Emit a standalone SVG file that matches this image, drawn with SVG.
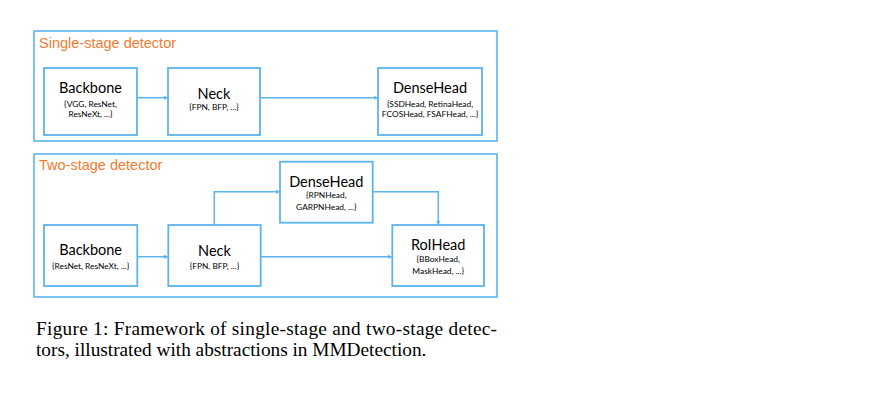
<svg xmlns="http://www.w3.org/2000/svg" width="888" height="406" viewBox="0 0 888 406">
<style>
.frame{fill:none;stroke:#5ab4f0;stroke-width:1.6}
.box{fill:#fff;stroke:#5ab4f0;stroke-width:1.8}
.title{font-family:"Liberation Sans",Arial,sans-serif;font-size:14.5px;fill:#ee7d31}
.name{font-family:Lato,"Open Sans",sans-serif;font-size:14.5px;fill:#000;text-anchor:middle}
.sub{font-family:Lato,"Open Sans",sans-serif;font-size:8.4px;fill:#000;text-anchor:middle}
.cap{font-family:"Liberation Serif","Times New Roman",serif;font-size:19.3px;fill:#000}
.conn{fill:none;stroke:#5ab4f0;stroke-width:1.5;marker-end:url(#ah)}
</style>
<defs>
<marker id="ah" viewBox="0 0 6 6" refX="6" refY="3" markerWidth="4.5" markerHeight="4.5" markerUnits="userSpaceOnUse" orient="auto">
<path d="M0,0 L6,3 L0,6 z" fill="#5ab4f0"/>
</marker>
</defs>
<rect width="888" height="406" fill="#fff"/>
<g id="single-stage">
<rect class="frame" x="34" y="31" width="463" height="110"/>
<text class="title" x="39" y="48">Single-stage detector</text>
</g>
<g id="two-stage">
<rect class="frame" x="34" y="154" width="463" height="143"/>
<text class="title" x="39" y="169.5">Two-stage detector</text>
</g>
<g id="connectors">
<path class="conn" d="M137,97.7 H168"/>
<path class="conn" d="M260,97.7 H378"/>
<path class="conn" d="M137,256.7 H168"/>
<path class="conn" d="M260.5,256.7 H392"/>
<path class="conn" d="M214.3,225 V191.7 H280"/>
<path class="conn" d="M372.7,191.7 H438.3 V225"/>
</g>
<g id="s-backbone">
<rect class="box" x="44" y="68" width="93" height="67"/>
<text class="name" x="90.5" y="92.7">Backbone</text>
<text class="sub" x="90.5" y="106.7">{VGG, ResNet,</text>
<text class="sub" x="90.5" y="117.3">ResNeXt, ...}</text>
</g>
<g id="s-neck">
<rect class="box" x="168" y="68" width="92" height="67"/>
<text class="name" x="214" y="99">Neck</text>
<text class="sub" x="214" y="110.3">{FPN, BFP, ...}</text>
</g>
<g id="s-densehead">
<rect class="box" x="378" y="68" width="104" height="67"/>
<text class="name" x="430" y="92.7">DenseHead</text>
<text class="sub" x="430" y="106.7">{SSDHead, RetinaHead,</text>
<text class="sub" x="430" y="117.3">FCOSHead, FSAFHead, ...}</text>
</g>
<g id="t-densehead">
<rect class="box" x="280" y="161.7" width="92.7" height="61"/>
<text class="name" x="326.3" y="186.7">DenseHead</text>
<text class="sub" x="326.3" y="198.3">{RPNHead,</text>
<text class="sub" x="326.3" y="210">GARPNHead, ...}</text>
</g>
<g id="t-backbone">
<rect class="box" x="44" y="225" width="93.3" height="61"/>
<text class="name" x="90.6" y="255">Backbone</text>
<text class="sub" x="90.6" y="269">{ResNet, ResNeXt, ...}</text>
</g>
<g id="t-neck">
<rect class="box" x="168.3" y="225" width="92.4" height="61"/>
<text class="name" x="214.5" y="256">Neck</text>
<text class="sub" x="214.5" y="269">{FPN, BFP, ...}</text>
</g>
<g id="t-roihead">
<rect class="box" x="392.3" y="225" width="91.7" height="61"/>
<text class="name" x="438.2" y="250">RoIHead</text>
<text class="sub" x="438.2" y="262.3">{BBoxHead,</text>
<text class="sub" x="438.2" y="274">MaskHead, ...}</text>
</g>
<g id="caption">
<text class="cap" x="36" y="335" textLength="461" lengthAdjust="spacing">Figure 1:  Framework of single-stage and two-stage detec-</text>
<text class="cap" x="36" y="356">tors, illustrated with abstractions in MMDetection.</text>
</g>
</svg>
